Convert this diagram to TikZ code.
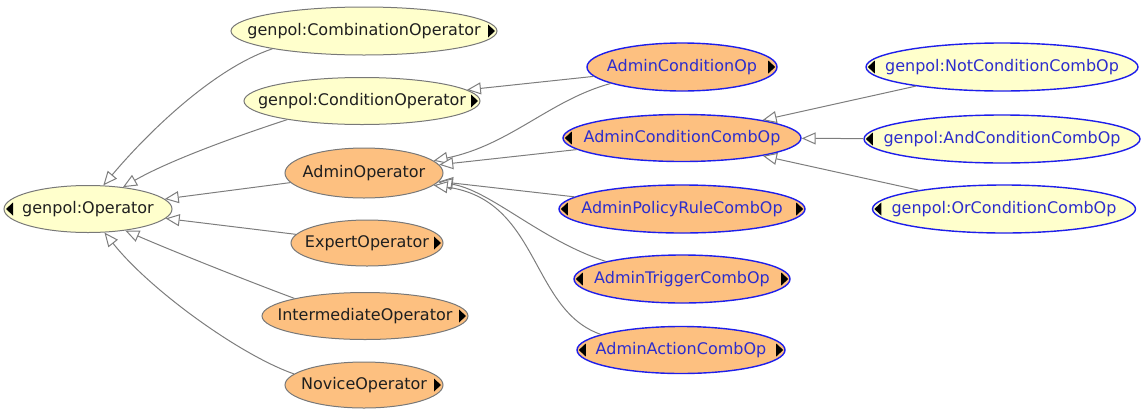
\documentclass[tikz,border=0pt]{standalone}
\usepackage{fontspec}
\setmainfont{DejaVu Sans}
\usetikzlibrary{shapes.geometric,arrows.meta}
\definecolor{ylw}{RGB}{255,255,204}
\definecolor{org}{RGB}{253,192,128}
\definecolor{bluebd}{RGB}{30,30,235}
\definecolor{bluetx}{RGB}{45,45,205}
\definecolor{edgegray}{RGB}{125,125,125}
\definecolor{bdgray}{RGB}{120,120,120}
\newcommand\nt[1]{\makebox[0pt]{#1}}
\newcommand\markL[1]{\fill[black] ([xshift=2.5pt]#1.west) -- ++(7,-6.5) -- ++(0,13) -- cycle;}
\newcommand\markR[1]{\fill[black] ([xshift=-2.5pt]#1.east) -- ++(-7,-6.5) -- ++(0,13) -- cycle;}
\begin{document}
\begin{tikzpicture}[x=1pt,y=-1pt,
  cls/.style={ellipse, inner sep=0pt, draw=bdgray, line width=1pt, text=black!88,
    font=\fontsize{16}{19}\selectfont, text height=11.5pt, text depth=3.5pt},
  gen/.style={cls, fill=ylw},
  loc/.style={cls, fill=org},
  sub/.style={draw=bluebd, line width=1.4pt, text=bluetx},
  sz/.style 2 args={minimum width=#1pt, minimum height=#2pt},
  isa/.style={draw=edgegray, line width=1pt, -{Triangle[open, length=14pt, width=12pt, fill=white]}}
]
\useasboundingbox (0,0) rectangle (1147,410);
% left column
\node[gen, sz={168}{47}] (op) at (88,209) {\nt{genpol:Operator}};
% middle column
\node[gen, sz={266}{48}] (comb) at (364,31) {\nt{genpol:CombinationOperator}};
\node[gen, sz={236}{47}] (cond) at (362,101) {\nt{genpol:ConditionOperator}};
\node[loc, sz={158}{50}] (admop) at (364,173) {\nt{AdminOperator}};
\node[loc, sz={152}{46}] (expert) at (367,243) {\nt{ExpertOperator}};
\node[loc, sz={206}{47}] (inter) at (365,316) {\nt{IntermediateOperator}};
\node[loc, sz={158}{46}] (novice) at (364,385) {\nt{NoviceOperator}};
% admin column
\node[loc, sub, sz={190}{48}] (acop) at (682,67) {\nt{AdminConditionOp}};
\node[loc, sub, sz={238}{47}] (accop) at (682,138) {\nt{AdminConditionCombOp}};
\node[loc, sub, sz={246}{48}] (aprc) at (682,209) {\nt{AdminPolicyRuleCombOp}};
\node[loc, sub, sz={216}{48}] (atc) at (682,279) {\nt{AdminTriggerCombOp}};
\node[loc, sub, sz={208}{47}] (aac) at (681,350) {\nt{AdminActionCombOp}};
% right column
\node[gen, sub, sz={272}{48}] (notc) at (1002,67) {\nt{genpol:NotConditionCombOp}};
\node[gen, sub, sz={276}{48}] (andc) at (1002,139) {\nt{genpol:AndConditionCombOp}};
\node[gen, sub, sz={263}{48}] (orc) at (1004,209) {\nt{genpol:OrConditionCombOp}};
% markers
\markL{op}
\markR{comb}
\markR{cond}
\markR{expert}
\markR{inter}
\markR{novice}
\markR{acop}
\markL{accop}
\markL{aprc}\markR{aprc}
\markL{atc}\markR{atc}
\markL{aac}\markR{aac}
\markL{notc}
\markL{andc}
\markL{orc}
% is-a connectors
\draw[isa] (comb.191) .. controls (215,68) and (150,130) .. (op.57);
\draw[isa] (cond.194) .. controls (240,135) and (170,160) .. (op.32);
\draw[isa] (admop) -- (op);
\draw[isa] (expert) -- (op);
\draw[isa] (inter.166) .. controls (245,280) and (170,250) .. (op.330);
\draw[isa] (novice.171) .. controls (240,355) and (150,290) .. (op.305);
\draw[isa] (acop) -- (cond);
\draw[isa] (acop.193) .. controls (550,100) and (510,145) .. (admop.10);
\draw[isa] (accop) -- (admop);
\draw[isa] (aprc) -- (admop);
\draw[isa] (atc.167) .. controls (540,240) and (490,190) .. (admop.353);
\draw[isa] (aac.169) .. controls (530,310) and (540,200) .. (admop.350);
\draw[isa] (notc) -- (accop);
\draw[isa] (andc) -- (accop);
\draw[isa] (orc) -- (accop);
\end{tikzpicture}
\end{document}
